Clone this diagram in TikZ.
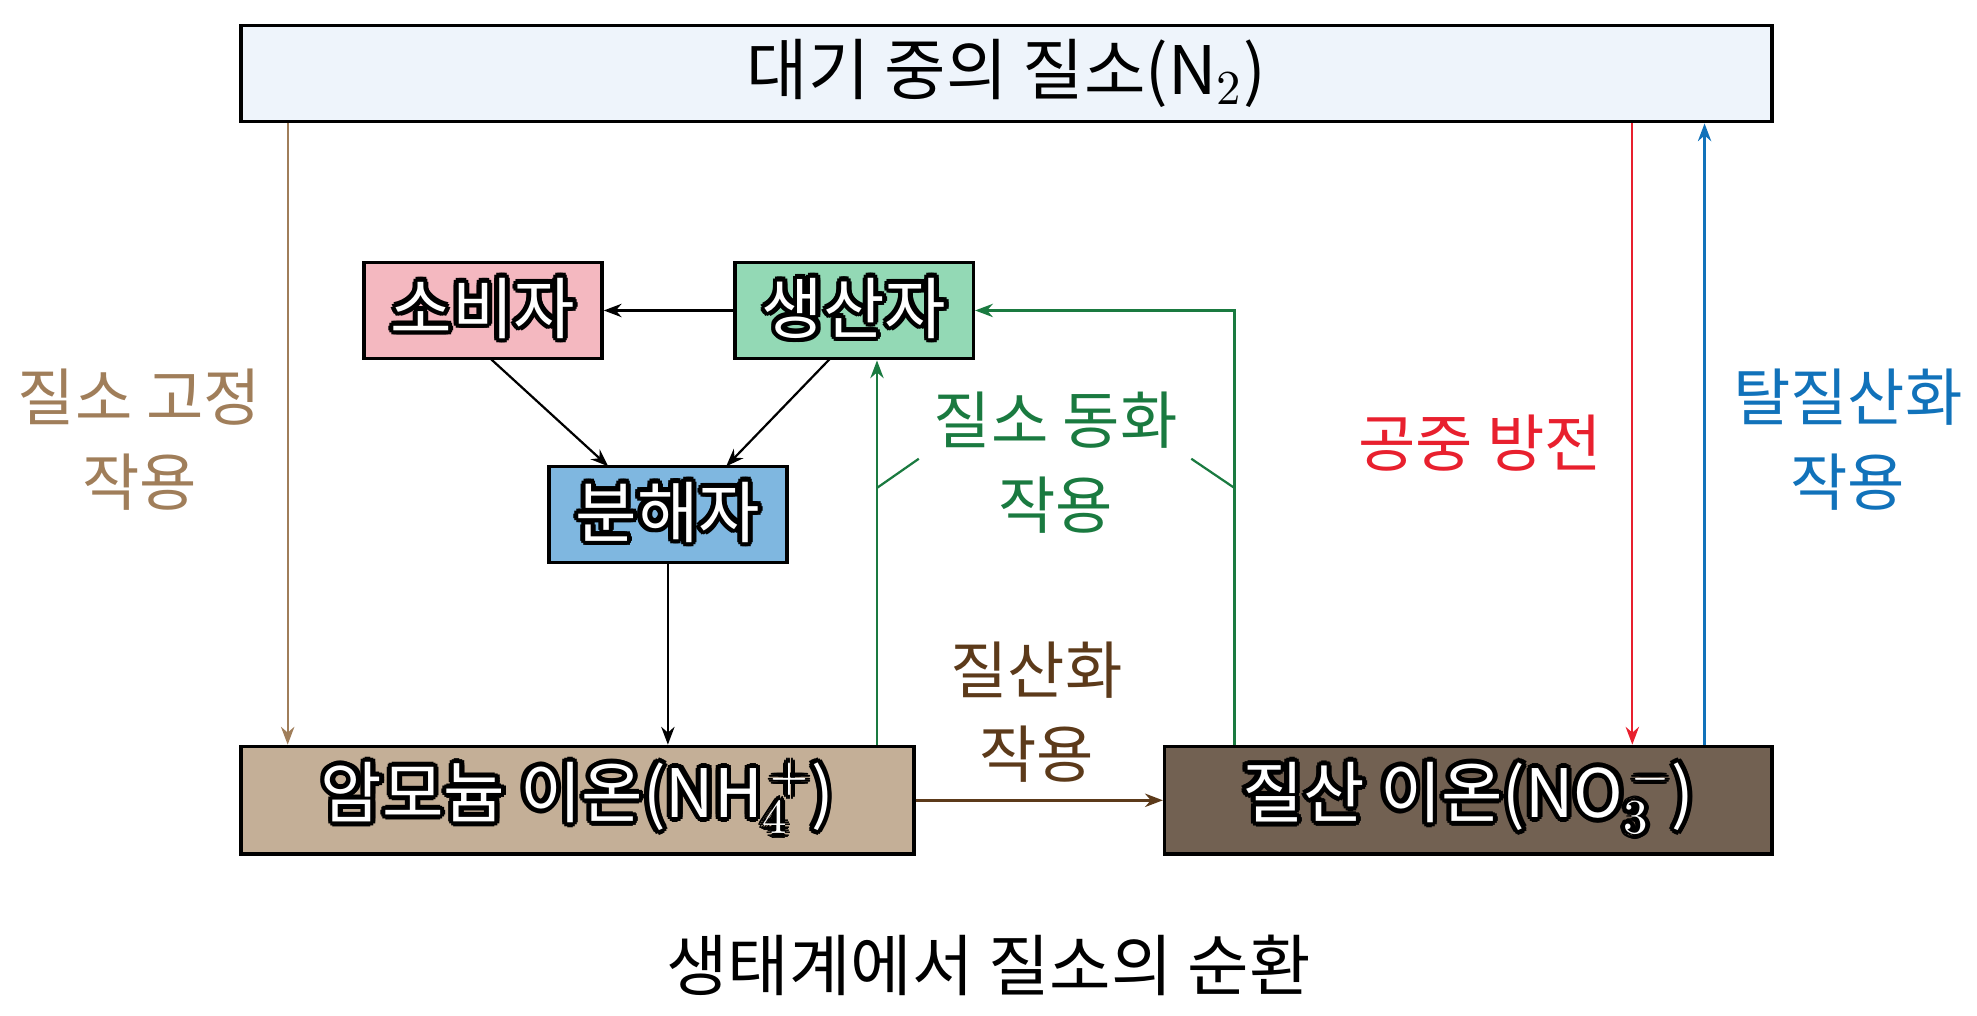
\documentclass[tikz,border=0pt]{standalone}
\usepackage{fontspec}
\setmainfont{Noto Sans CJK KR}
\usepackage{contour}
\contourlength{1.1pt}
\contournumber{12}
\usetikzlibrary{arrows.meta}
\definecolor{airblue}{HTML}{EEF4FB}
\definecolor{conspink}{HTML}{F4B8C0}
\definecolor{prodgreen}{HTML}{93D9B5}
\definecolor{decblue}{HTML}{7FB7E0}
\definecolor{ammtan}{HTML}{C4AF97}
\definecolor{nitbrown}{HTML}{726152}
\definecolor{fixbrown}{HTML}{A07E5A}
\definecolor{assimgreen}{HTML}{1A7A40}
\definecolor{nitrifbrown}{HTML}{5C3A1A}
\definecolor{lightred}{HTML}{E8202E}
\definecolor{denitblue}{HTML}{1172BA}
\tikzset{
  box/.style={draw=black, line width=0.8pt, inner sep=0pt},
  org/.style={box, minimum width=1.88cm, minimum height=0.76cm, text=white, font=\fontsize{15}{17}\selectfont},
  ion/.style={box, minimum height=0.85cm, text=white, font=\fontsize{15}{17}\selectfont},
  arr/.style={-{Stealth[length=4pt,width=3pt]}, line width=0.5pt},
  lbl/.style={align=center, font=\fontsize{14}{19}\selectfont}
}
\begin{document}
\begin{tikzpicture}
\useasboundingbox (0,0) rectangle (15.6,-8.01);

% boxes
\node[box, fill=airblue, minimum width=12.08cm, minimum height=0.76cm, font=\fontsize{15}{17}\selectfont] (air) at (7.94,-0.58) {대기 중의 질소(N$_2$)};
\node[org, fill=conspink] (cons) at (3.81,-2.45) {\contour{black}{소비자}};
\node[org, fill=prodgreen] (prod) at (6.74,-2.45) {\contour{black}{생산자}};
\node[org, fill=decblue] (dec) at (5.27,-4.06) {\contour{black}{분해자}};
\node[ion, fill=ammtan, minimum width=5.31cm] (amm) at (4.555,-6.315) {\contour{black}{암모늄 이온(NH$_4^{\,+}$)}};
\node[ion, fill=nitbrown, minimum width=4.79cm] (nit) at (11.585,-6.315) {\contour{black}{질산 이온(NO$_3^{\,-}$)}};

% helper points
\coordinate (fx) at (2.27,0);
\coordinate (ld) at (12.88,0);
\coordinate (dn) at (13.45,0);
\coordinate (ga) at (6.92,0);
\coordinate (gb) at (9.74,0);

% food web
\draw[arr] (prod) -- (cons);
\draw[arr] (3.87,-2.83) -- (4.80,-3.68);
\draw[arr] (6.55,-2.83) -- (5.73,-3.68);
\draw[arr] (dec) -- (amm.north -| dec);

% nitrogen fixation
\draw[arr, fixbrown] (air.south -| fx) -- (amm.north -| fx);
\node[lbl, text=fixbrown] (fixl) at (1.10,-3.47) {질소 고정\\작용};

% lightning
\draw[arr, lightred] (air.south -| ld) -- (nit.north -| ld);
\node[lbl, text=lightred] (ltl) at (11.68,-3.50) {공중 방전};

% denitrification
\draw[arr, denitblue] (nit.north -| dn) -- (air.south -| dn);
\node[lbl, text=denitblue] (dnl) at (14.58,-3.47) {탈질산화\\작용};

% assimilation
\draw[arr, assimgreen] (amm.north -| ga) -- (prod.south -| ga);
\draw[arr, assimgreen] (nit.north -| gb) |- (prod.east);
\node[lbl, text=assimgreen] (asl) at (8.33,-3.65) {질소 동화\\작용};
\draw[assimgreen, line width=0.5pt] (6.92,-3.85) -- (7.25,-3.62);
\draw[assimgreen, line width=0.5pt] (9.40,-3.62) -- (9.74,-3.85);

% nitrification
\draw[arr, nitrifbrown, line width=0.7pt] (amm) -- (nit);
\node[lbl, text=nitrifbrown] (nfl) at (8.18,-5.62) {질산화\\작용};

% caption
\node[font=\fontsize{15}{17}\selectfont] (cap) at (7.80,-7.62) {생태계에서 질소의 순환};
\end{tikzpicture}
\end{document}
